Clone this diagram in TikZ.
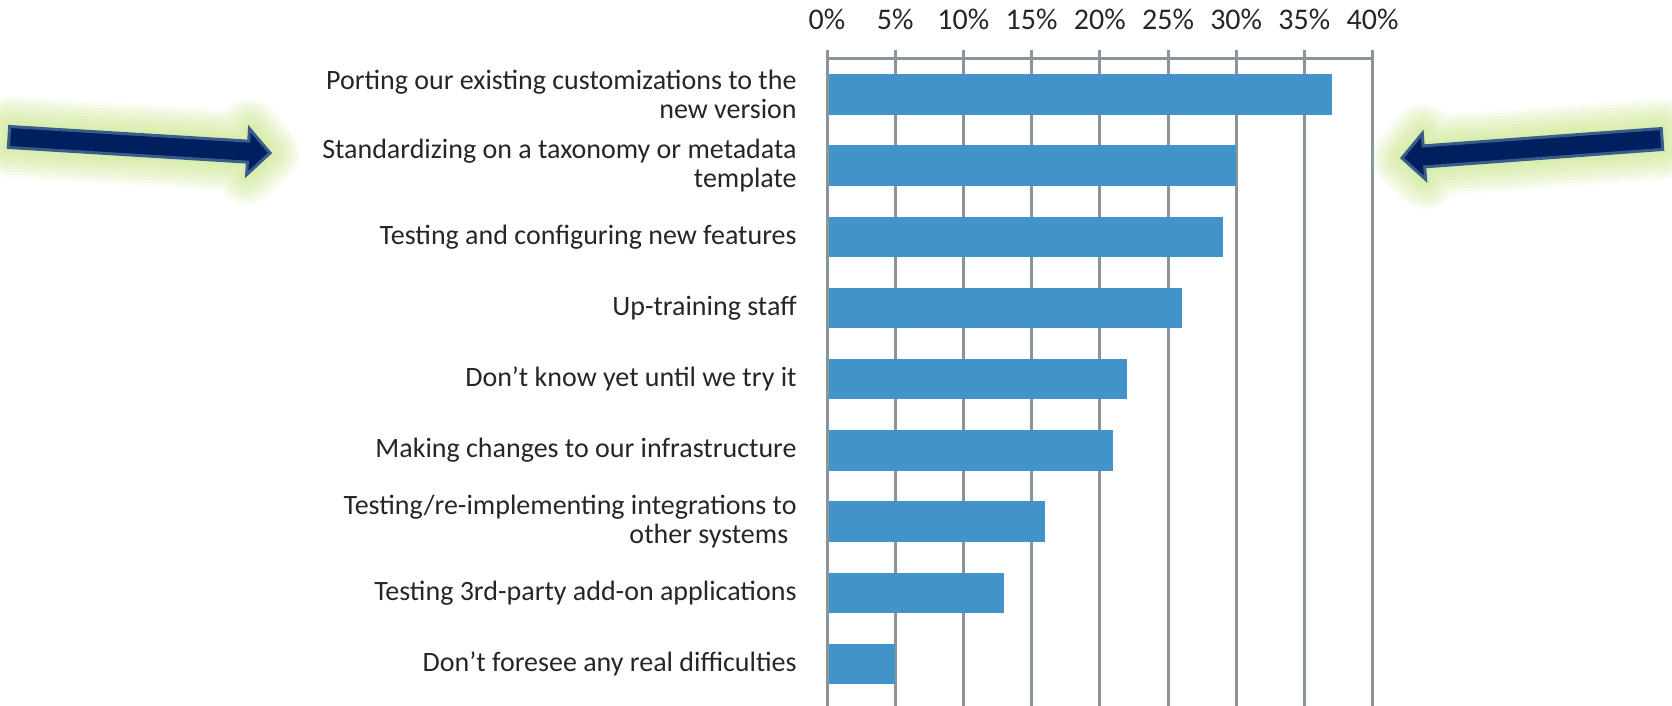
\documentclass[tikz,border=0pt]{standalone}
\usepackage{fontspec}
\setmainfont{Carlito}
\usetikzlibrary{calc}

\definecolor{barblue}{RGB}{67,147,203}
\definecolor{gridgray}{RGB}{140,148,155}
\definecolor{labelgray}{RGB}{38,38,38}
\definecolor{arrownavy}{RGB}{0,31,95}
\definecolor{arrowedge}{RGB}{58,92,140}
\definecolor{glowgreen}{RGB}{190,226,120}

\tikzset{gridline/.style = {draw = gridgray, line width = 1.5pt},
    chartbar/.style = {fill = barblue},
    barlabel/.style = {anchor = east, align = right, text = labelgray, inner sep = 0pt,
        font = \fontsize{14}{14.8}\selectfont},
    ticklabel/.style = {text = labelgray, inner sep = 0pt,
        font = \fontsize{15}{18}\selectfont},
    blockarrow/.style = {fill = arrownavy, draw = arrowedge, line width = 1.5pt, line join = miter},
    arrowglow/.style = {draw = glowgreen, line join = round}
}
\def\xzero{827}
\def\xunit{13.64}

% tail, tip
\newcommand{\arrowshape}[2]{%
    ($(#1)!5.25pt!90:(#2)$) -- ($(#2-neck)!5.25pt!90:(#2)$) -- ($(#2-neck)!11.5pt!90:(#2)$)
    -- (#2) -- ($(#2-neck)!11.5pt!-90:(#2)$) -- ($(#2-neck)!5.25pt!-90:(#2)$)
    -- ($(#1)!5.25pt!-90:(#2)$) -- cycle}

\begin{document}
\begin{tikzpicture}[x = 0.5pt, y = -0.5pt]

    \useasboundingbox (0,0) rectangle (1672,706);

    % axis and grid
    \foreach \p in {0,5,...,40} {
        \draw[gridline] (\xzero+\p*\xunit, 50) -- (\xzero+\p*\xunit, 706);
        \node[ticklabel] (tick\p) at (\xzero+\p*\xunit, 19) {\p\%};
    }
    \draw[gridline] (\xzero, 59) -- (\xzero+40*\xunit, 59);

    % bars and their labels
    \foreach \val/\txt [count = \i] in {
        37/{Porting our existing customizations to the\\new version},
        30/{Standardizing on a taxonomy or metadata\\template},
        29/{Testing and configuring new features},
        26/{Up-training staff},
        22/{Don’t know yet until we try it},
        21/{Making changes to our infrastructure},
        16/{Testing/re-implementing integrations to\\other systems\hspace*{0.3em}},
        13/{Testing 3rd-party add-on applications},
        5/{Don’t foresee any real difficulties}} {
        \pgfmathsetmacro{\yc}{94.4+(\i-1)*71.2}
        \fill[chartbar] (\xzero, \yc-20.25) rectangle (\xzero+\val*\xunit, \yc+20.25);
        \node[barlabel] (lbl\i) at (797, \yc) {\txt};
    }
    \draw[gridline] (\xzero, 50) -- (\xzero, 706);

    % highlight arrows
    \coordinate (leftTail) at (9,137);
    \coordinate (leftTip) at (270,153);
    \coordinate (leftTip-neck) at ($(leftTip)!11pt!(leftTail)$);
    \coordinate (rightTail) at (1662,139);
    \coordinate (rightTip) at (1402,158);
    \coordinate (rightTip-neck) at ($(rightTip)!11pt!(rightTail)$);

    \foreach \w in {30,27,...,3} {
        \draw[arrowglow, line width = \w pt, draw opacity = 0.09] \arrowshape{leftTail}{leftTip};
        \draw[arrowglow, line width = \w pt, draw opacity = 0.09] \arrowshape{rightTail}{rightTip};
    }
    \draw[blockarrow] \arrowshape{leftTail}{leftTip};
    \draw[blockarrow] \arrowshape{rightTail}{rightTip};

\end{tikzpicture}
\end{document}
